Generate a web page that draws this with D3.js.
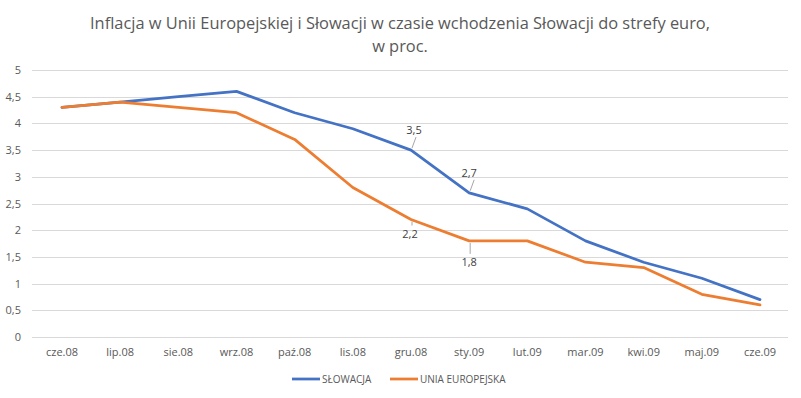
<!DOCTYPE html>
<html>
<head>
<meta charset="utf-8">
<script src="https://cdn.jsdelivr.net/npm/d3@7"></script>
<style>
  body { margin: 0; background: #fff; }
  text { font-family: "Open Sans", "Noto Sans", sans-serif; }
</style>
</head>
<body>
<div id="canvas"></div>
<script>
// months on the x axis
const months = ["cze.08","lip.08","sie.08","wrz.08","paź.08","lis.08","gru.08","sty.09","lut.09","mar.09","kwi.09","maj.09","cze.09"]
const slowacja = [4.3, 4.4, 4.5, 4.6, 4.2, 3.9, 3.5, 2.7, 2.4, 1.8, 1.4, 1.1, 0.7]
const unia = [4.3, 4.4, 4.3, 4.2, 3.7, 2.8, 2.2, 1.8, 1.8, 1.4, 1.3, 0.8, 0.6]
const yTicks = [0, 0.5, 1, 1.5, 2, 2.5, 3, 3.5, 4, 4.5, 5]
const seriesNames = ["SŁOWACJA", "UNIA EUROPEJSKA"]
const colors = ["#4472C4", "#ED7D31"]

// labelled points: series, index, label offset
const labels = [
  {s: 0, i: 6, dx: 3, dy: -16, above: true},
  {s: 0, i: 7, dx: 0, dy: -16, above: true},
  {s: 1, i: 6, dx: -1, dy: 18, above: false},
  {s: 1, i: 7, dx: 0, dy: 25, above: false}
]

window.onload = function () { setup() }

function setup() {
  const W = 801, H = 398
  const svg = d3.select("#canvas").append("svg")
    .attr("width", W).attr("height", H)

  const x = d3.scalePoint().domain(months).range([62, 760])
  const y = d3.scaleLinear().domain([0, 5]).range([337, 70])
  const fmt = v => String(v).replace(".", ",")

  // title
  svg.append("text").attr("x", 400).attr("y", 29).attr("text-anchor", "middle")
    .attr("font-size", 16.4).attr("fill", "#595959")
    .text("Inflacja w Unii Europejskiej i Słowacji w czasie wchodzenia Słowacji do strefy euro,")
  svg.append("text").attr("x", 400).attr("y", 52).attr("text-anchor", "middle")
    .attr("font-size", 16.4).attr("fill", "#595959")
    .text("w proc.")

  // grid
  svg.selectAll("line.grid").data(yTicks).join("line")
    .attr("x1", 32).attr("x2", 788)
    .attr("y1", d => Math.round(y(d)) + 0.5).attr("y2", d => Math.round(y(d)) + 0.5)
    .attr("stroke", "#d9d9d9").attr("stroke-width", 1)

  svg.selectAll("text.ytick").data(yTicks).join("text")
    .attr("x", 21).attr("y", d => y(d) + 4)
    .attr("text-anchor", "end").attr("font-size", 11).attr("fill", "#595959")
    .text(fmt)

  svg.selectAll("text.xtick").data(months).join("text")
    .attr("x", d => x(d)).attr("y", 356)
    .attr("text-anchor", "middle").attr("font-size", 11).attr("fill", "#595959")
    .text(d => d)

  const line = d3.line().x((d, i) => x(months[i])).y(d => y(d))
  const data = [slowacja, unia]

  svg.selectAll("path.series").data(data).join("path")
    .attr("d", line).attr("fill", "none")
    .attr("stroke", (d, i) => colors[i]).attr("stroke-width", 2.75)
    .attr("stroke-linejoin", "round").attr("stroke-linecap", "round")

  // data labels with leader lines
  labels.forEach(l => {
    const px = x(months[l.i]), py = y(data[l.s][l.i])
    const tx = px + l.dx, ty = py + l.dy
    svg.append("line")
      .attr("x1", px + 1).attr("y1", l.above ? py - 2 : py + 2)
      .attr("x2", px + (l.above ? 5 : 1)).attr("y2", l.above ? ty + 3 : ty - 12)
      .attr("stroke", "#a6a6a6").attr("stroke-width", 1)
    svg.append("text").attr("x", tx).attr("y", ty)
      .attr("text-anchor", "middle").attr("font-size", 11).attr("fill", "#404040")
      .text(fmt(data[l.s][l.i]))
  })

  // legend
  const legendX = [292, 390]
  seriesNames.forEach((name, i) => {
    svg.append("line").attr("x1", legendX[i]).attr("x2", legendX[i] + 28)
      .attr("y1", 379).attr("y2", 379)
      .attr("stroke", colors[i]).attr("stroke-width", 2.75)
    svg.append("text").attr("x", legendX[i] + 30).attr("y", 383)
      .attr("font-size", 10).attr("fill", "#595959").text(name)
  })
}
</script>
</body>
</html>
